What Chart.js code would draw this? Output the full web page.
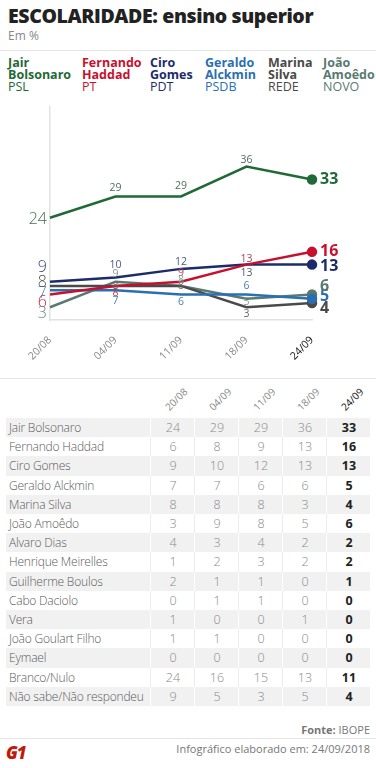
<!DOCTYPE html>
<html>
<head>
<meta charset="utf-8">
<title>Escolaridade: ensino superior</title>
<script src="https://cdn.jsdelivr.net/npm/chart.js"></script>
<style>
body {
  margin: 0;
  background: #fff;
  font-family: "Open Sans", sans-serif;
}
#page {
  position: relative;
  width: 376px;
  height: 768px;
  overflow: hidden;
}
.title {
  position: absolute; left: 8px; top: 2px;
  font-size: 19.5px; font-weight: 800; color: #222; letter-spacing: -0.4px;
}
.sub {
  position: absolute; left: 8px; top: 27px;
  font-size: 12px; color: #888;
}
.rule {
  position: absolute; left: 0; width: 376px; height: 1px; background: #e6e6e6;
}
.leg {
  position: absolute; top: 57px;
  font-size: 12.5px; line-height: 12px; font-weight: 700;
}
.leg span { display: block; font-weight: 400; }
#chartBox {
  position: absolute; left: 0; top: 95px; width: 376px; height: 283px;
}
#table {
  position: absolute; left: 6px; top: 380px; width: 364px;
}
.hd {
  position: absolute; font-size: 10px; color: #888;
  transform: translate(-50%, -50%) rotate(-45deg);
  white-space: nowrap;
}
.row {
  position: absolute; left: 0; width: 364px; height: 19.2px;
  font-size: 12.5px; line-height: 19.2px; font-weight: 300;
}
.row div { position: absolute; top: 0; height: 19.2px; white-space: nowrap; }
.name { left: 0; width: 140px; padding-left: 3px; color: #5a5a5a; font-size: 12px; letter-spacing: -0.2px; }
.val { width: 44px; text-align: center; color: #8a8a8a; }
.last { color: #222; font-weight: 700; }
.foot { position: absolute; right: 6px; font-size: 11px; color: #777; }
.g1 {
  position: absolute; left: 6px; top: 741px;
  font-size: 17px; font-weight: 900; color: #c4170c; font-style: italic; letter-spacing: -1px;
}
</style>
</head>
<body>
<div id="page">
  <div class="title">ESCOLARIDADE: ensino superior</div>
  <div class="sub">Em %</div>
  <div class="rule" style="top:50px"></div>
  <div id="legend"></div>
  <div id="chartBox"><canvas id="chart"></canvas></div>
  <div class="rule" style="top:378px"></div>
  <div id="table"></div>
  <div class="foot" style="top:722px"><b>Fonte:</b> IBOPE</div>
  <div class="rule" style="top:738px"></div>
  <div class="g1">G1</div>
  <div class="foot" style="top:741px">Infográfico elaborado em: 24/09/2018</div>
</div>

<script>
// data
const dates = ['20/08', '04/09', '11/09', '18/09', '24/09'];
const candidates = ['Jair Bolsonaro', 'Fernando Haddad', 'Ciro Gomes', 'Geraldo Alckmin', 'Marina Silva', 'João Amoêdo'];
const parties = ['PSL', 'PT', 'PDT', 'PSDB', 'REDE', 'NOVO'];
const bolsonaro = [24, 29, 29, 36, 33];
const haddad = [6, 8, 9, 13, 16];
const ciro = [9, 10, 12, 13, 13];
const alckmin = [7, 7, 6, 6, 5];
const marina = [8, 8, 8, 3, 4];
const amoedo = [3, 9, 8, 5, 6];
const otherNames = ['Alvaro Dias', 'Henrique Meirelles', 'Guilherme Boulos', 'Cabo Daciolo', 'Vera',
  'João Goulart Filho', 'Eymael', 'Branco/Nulo', 'Não sabe/Não respondeu'];
const otherRows = [
  [4, 3, 4, 2, 2],
  [1, 2, 3, 2, 2],
  [2, 1, 1, 0, 1],
  [0, 1, 1, 0, 0],
  [1, 0, 0, 1, 0],
  [1, 1, 0, 0, 0],
  [0, 0, 0, 0, 0],
  [24, 16, 15, 13, 11],
  [9, 5, 3, 5, 4]
];
const series = [bolsonaro, haddad, ciro, alckmin, marina, amoedo];

// styles
const lineColors = ['#1f6a36', '#c8102e', '#1c2c6a', '#2b6fb1', '#4a4a4a', '#587a72'];
const midColors = ['#4d6f58', '#b3405a', '#4b5a82', '#4d82b8', '#6a6a6a', '#8a9c98'];
const startColors = ['#3f6f52', '#c8283f', '#3c4a78', '#4a7fb5', '#555', '#6f8480'];
const legendX = [8, 82, 150, 205, 268, 323];
const startDy = [2, 8, -14, 3, -3, 6];
const endDy = [0, 0, 2, -2, 5, -8];
const midDy = [
  [0, -8, -10, -7, 0],
  [0, 7, -9, -6, 0],
  [0, -12, -7, 8, 0],
  [0, 11, 8, -8, 0],
  [0, 0, 0, 7, 0],
  [0, -8, -6, 3, 0]
];

// legend
const legend = document.getElementById('legend');
candidates.forEach((c, i) => {
  const d = document.createElement('div');
  d.className = 'leg';
  d.style.left = legendX[i] + 'px';
  d.style.color = lineColors[i];
  const parts = c.split(' ');
  d.innerHTML = parts[0] + '<br>' + parts.slice(1).join(' ') + '<span>' + parties[i] + '</span>';
  legend.appendChild(d);
});

// labels on the lines
const labelPlugin = {
  id: 'pointLabels',
  afterDatasetsDraw(chart) {
    const ctx = chart.ctx;
    ctx.save();
    ctx.textBaseline = 'middle';
    chart.data.datasets.forEach((ds, di) => {
      const meta = chart.getDatasetMeta(di);
      meta.data.forEach((pt, i) => {
        const v = ds.data[i];
        if (i === 0) {
          ctx.font = '300 16px "Open Sans"';
          ctx.fillStyle = startColors[di];
          ctx.textAlign = 'right';
          ctx.fillText(v, pt.x - 3, pt.y + startDy[di]);
        } else if (i === ds.data.length - 1) {
          ctx.font = '700 16px "Open Sans"';
          ctx.fillStyle = lineColors[di];
          ctx.textAlign = 'left';
          ctx.fillText(v, pt.x + 8, pt.y + endDy[di]);
        } else {
          ctx.font = '400 10.5px "Open Sans"';
          ctx.fillStyle = midColors[di];
          ctx.textAlign = 'center';
          ctx.fillText(v, pt.x, pt.y + midDy[di][i]);
        }
      });
    });
    ctx.restore();
  }
};

new Chart(document.getElementById('chart'), {
  type: 'line',
  data: {
    labels: dates,
    datasets: series.map((s, i) => ({
      label: candidates[i],
      data: s,
      borderColor: lineColors[i],
      backgroundColor: lineColors[i],
      borderWidth: 2.5,
      tension: 0,
      pointRadius: ctx => ctx.dataIndex === dates.length - 1 ? 4 : 0,
      pointHoverRadius: 0
    }))
  },
  options: {
    responsive: true,
    maintainAspectRatio: false,
    animation: false,
    events: [],
    layout: { padding: { top: 12, right: 64, left: 0, bottom: 0 } },
    plugins: { legend: { display: false }, tooltip: { enabled: false } },
    scales: {
      x: {
        offset: false,
        grid: { display: false },
        border: { color: '#e2e2e2', width: 1.5 },
        ticks: {
          minRotation: 45, maxRotation: 45,
          padding: 6,
          color: ctx => ctx.index === dates.length - 1 ? '#111' : '#888',
          font: { family: 'Open Sans', size: 10.5 }
        },
        afterFit: s => { s.height = 58; }
      },
      y: {
        min: 0, max: 50,
        grid: { display: false },
        border: { color: '#e2e2e2', width: 1.5 },
        ticks: { display: false },
        afterFit: s => { s.width = 50; }
      }
    }
  },
  plugins: [labelPlugin]
});

// table
const table = document.getElementById('table');
const colX = [144, 188, 232, 276, 320];
dates.forEach((d, j) => {
  const h = document.createElement('div');
  h.className = 'hd';
  h.textContent = d;
  h.style.left = (colX[j] + 26) + 'px';
  h.style.top = '19px';
  if (j === dates.length - 1) h.style.color = '#111';
  table.appendChild(h);
});
const rowNames = candidates.concat(otherNames);
const rowValues = series.concat(otherRows);
rowNames.forEach((n, r) => {
  const row = document.createElement('div');
  row.className = 'row';
  row.style.top = (38 + r * 19.2) + 'px';
  const shaded = r % 2 === 0;
  row.style.background = shaded ? '#f1f1f1' : '#fff';
  let html = '<div class="name">' + n + '</div>';
  rowValues[r].forEach((v, j) => {
    const border = shaded ? '#fff' : '#ececec';
    html += '<div class="val' + (j === 4 ? ' last' : '') + '" style="left:' + colX[j] +
      'px;border-left:1px solid ' + border + '">' + v + '</div>';
  });
  row.innerHTML = html;
  table.appendChild(row);
});
</script>
</body>
</html>
